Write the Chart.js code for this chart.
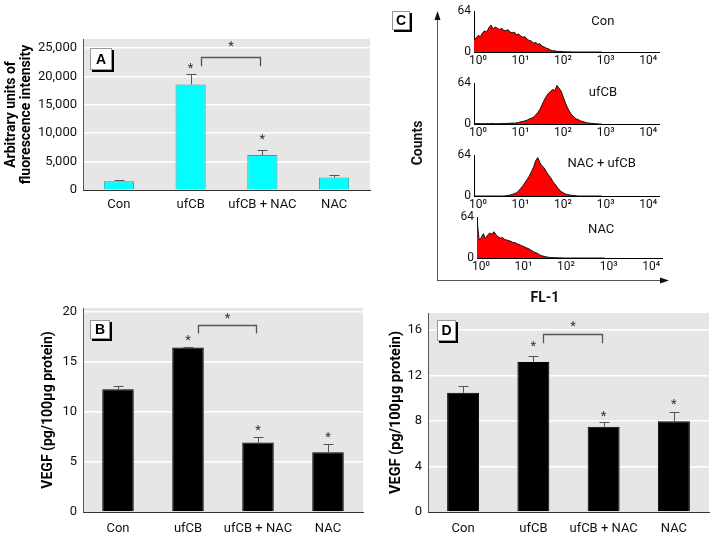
<!DOCTYPE html>
<html>
<head>
<meta charset="utf-8">
<script src="https://cdn.jsdelivr.net/npm/chart.js@4.4.1/dist/chart.umd.min.js"></script>
<style>
  body { margin: 0; background: #fff; width: 714px; height: 537px; position: relative; overflow: hidden; }
  canvas { position: absolute; }
  .tag { position: absolute; background: #fff; border: 1px solid #999; box-shadow: 2px 2px 0 #000; box-sizing: border-box;
         font: bold 14px 'Liberation Sans', Arial, sans-serif; text-align: center; color: #000; }
  .lbl { position: absolute; font: bold 14px Roboto, 'Liberation Sans', sans-serif; white-space: nowrap;
         transform: translate(-50%, -50%); color: #111; }
  svg { position: absolute; left: 0; top: 0; }
</style>
</head>
<body>
<canvas id="chartA" width="372" height="215" style="left:0;top:0"></canvas>
<canvas id="chartB" width="365" height="247" style="left:0;top:290px"></canvas>
<canvas id="chartD" width="354" height="247" style="left:360px;top:290px"></canvas>
<canvas id="hist0" width="222" height="72" style="left:440px;top:0"></canvas>
<canvas id="hist1" width="222" height="72" style="left:440px;top:72px"></canvas>
<canvas id="hist2" width="222" height="72" style="left:440px;top:144px"></canvas>
<canvas id="hist3" width="222" height="72" style="left:443px;top:206px"></canvas>

<svg width="714" height="537">
  <line x1="437.5" y1="18" x2="437.5" y2="280.5" stroke="#555" stroke-width="1"/>
  <polygon points="437.5,11 434.5,20 440.5,20" fill="#111"/>
  <line x1="437" y1="280.5" x2="662" y2="280.5" stroke="#555" stroke-width="1"/>
  <polygon points="669,280.5 660,277.5 660,283.5" fill="#111"/>
</svg>

<div class="tag" style="left:90px;top:48px;width:22px;height:22px;line-height:20px">A</div>
<div class="tag" style="left:90px;top:320px;width:20px;height:19px;line-height:17px">B</div>
<div class="tag" style="left:437px;top:320px;width:19px;height:21px;line-height:19px">D</div>
<div class="tag" style="left:392px;top:11px;width:18px;height:19px;line-height:17px">C</div>
<div class="lbl" style="left:417px;top:143px;transform:translate(-50%,-50%) rotate(-90deg)">Counts</div>
<div class="lbl" style="left:545px;top:297px">FL-1</div>

<script>
const FONT = "Roboto, 'Liberation Sans', sans-serif";

// bar panels (A, B, D)
const groups = ['Con', 'ufCB', 'ufCB + NAC', 'NAC'];
const meanA = [1550, 18600, 6150, 2200];
const semA  = [200, 1800, 850, 400];
const starsA = [null, 22000, 9560, null];
const ticksA = [0, 5000, 10000, 15000, 20000, 25000];
const meanB = [12.27, 16.44, 6.94, 5.97];
const semB  = [0.37, 0.06, 0.53, 0.83];
const starsB = [null, 17.5, 8.47, 7.77];
const ticksB = [0, 5, 10, 15, 20];
const meanD = [10.48, 13.2, 7.49, 7.99];
const semD  = [0.62, 0.5, 0.41, 0.81];
const starsD = [null, 14.89, 8.72, 9.75];
const ticksD = [0, 4, 8, 12, 16];

// flow cytometry histograms (panel C), x in log10 decades of FL-1
const fl1Bins = [0,0.05,0.1,0.15,0.2,0.25,0.3,0.35,0.4,0.45,0.5,0.55,0.6,0.65,0.7,0.75,0.8,0.85,0.9,0.95,
  1,1.05,1.1,1.15,1.2,1.25,1.3,1.35,1.4,1.45,1.5,1.55,1.6,1.65,1.7,1.75,1.8,1.85,1.9,1.95,
  2,2.05,2.1,2.15,2.2,2.25,2.3,2.35,2.4,2.45,2.5,2.55,2.6,2.65,2.7,2.75,2.8,2.85,2.9,2.95,3];
const fl1Ticks = [0, 1, 2, 3, 4];
const fl1Decades = ['10⁰', '10¹', '10²', '10³', '10⁴'];
const countTicks = [0, 64];
const countsCon = [18,22,26,24,30,33,31,38,42,36,39,37,35,37,34,33,35,31,30,31,
  27,28,25,23,24,20,18,17,14,15,12,13,9,8,6,5,3,2,2,1,
  1,1,0.5,0.5,0.3,0.3,0,0,0,0,0,0,0,0,0,0,0,0,0,0,0];
const countsUfcb = [0.5,0.5,0.8,0.5,0.6,0.5,0.8,0.5,0.6,0.9,0.5,0.6,0.8,0.7,1,0.8,1,1.2,1.5,1.2,
  2,2.5,3.5,4,5,6,8,9,11,14,18,23,30,37,43,48,51,54,52,60,
  56,51,42,33,25,19,14,11,8,7,5,4,3,2,1.5,1,0.8,0.5,0.3,0,0];
const countsNacUfcb = [0,0,0,0,0,0,0,0,0,0,0,0,0,0,0,0.3,0.8,1.5,2.5,4,
  5,8,12,16,21,26,31,38,45,55,60,52,47,44,38,33,29,23,19,14,
  10,7,5,3,2.5,1.5,1,0.5,0.3,0,0,0,0,0,0,0,0,0,0,0,0];
const countsNac = [60,28,32,38,30,36,39,37,41,36,33,31,32,29,28,27,26,24,24,22,
  21,19,18,16,15,13,11,9,8,6,4,3,2,1.5,1,0.8,0.6,0.5,0.3,0.2,
  0,0,0,0,0,0,0,0,0,0,0,0,0,0,0,0,0,0,0,0,0];
const histNames = ['Con', 'ufCB', 'NAC + ufCB', 'NAC'];

const panelBg = {
  id: 'panelBg',
  beforeDraw(chart, args, o) {
    if (!o.color) return;
    const { ctx, chartArea: a } = chart;
    ctx.save();
    ctx.fillStyle = o.color;
    ctx.fillRect(a.left, a.top, a.right - a.left, a.bottom - a.top);
    ctx.restore();
  }
};

const barExtras = {
  id: 'barExtras',
  afterDatasetsDraw(chart, args, o) {
    if (!o.sem) return;
    const { ctx, scales: { x, y } } = chart;
    const means = chart.data.datasets[0].data;
    ctx.save();
    ctx.strokeStyle = '#555';
    ctx.lineWidth = 1;
    means.forEach((m, i) => {
      const px = Math.round(x.getPixelForValue(i)) + 0.5;
      const top = Math.round(y.getPixelForValue(m + o.sem[i])) + 0.5;
      ctx.beginPath();
      ctx.moveTo(px, y.getPixelForValue(m));
      ctx.lineTo(px, top);
      ctx.moveTo(px - 5, top);
      ctx.lineTo(px + 5, top);
      ctx.stroke();
    });
    ctx.fillStyle = '#333';
    ctx.font = '13px ' + FONT;
    ctx.textAlign = 'center';
    ctx.textBaseline = 'alphabetic';
    o.stars.forEach((s, i) => {
      if (s == null) return;
      ctx.fillText('*', x.getPixelForValue(i), y.getPixelForValue(s) + 7);
    });
    const b = o.bracket;
    const x1 = Math.round(x.getPixelForValue(b.from) + 10) + 0.5;
    const x2 = Math.round(x.getPixelForValue(b.to) - 2) + 0.5;
    const yt = Math.round(y.getPixelForValue(b.top)) + 0.5;
    const yb = y.getPixelForValue(b.bottom);
    ctx.lineWidth = 1.3;
    ctx.beginPath();
    ctx.moveTo(x1, yb); ctx.lineTo(x1, yt); ctx.lineTo(x2, yt); ctx.lineTo(x2, yb);
    ctx.stroke();
    ctx.fillText('*', (x1 + x2) / 2, y.getPixelForValue(b.star) + 7);
    ctx.restore();
  }
};

const histName = {
  id: 'histName',
  afterDatasetsDraw(chart, args, o) {
    if (!o.text) return;
    const { ctx, scales: { x, y } } = chart;
    ctx.save();
    ctx.fillStyle = '#111';
    ctx.font = '13px ' + FONT;
    ctx.textAlign = 'center';
    ctx.textBaseline = 'middle';
    ctx.fillText(o.text, x.getPixelForValue(o.x), y.getPixelForValue(o.y));
    ctx.restore();
  }
};

function barChart(id, c) {
  return new Chart(document.getElementById(id), {
    type: 'bar',
    data: {
      labels: groups,
      datasets: [{ data: c.means, backgroundColor: c.fill, borderColor: c.edge, borderWidth: 1,
                   barPercentage: c.bar, categoryPercentage: 1 }]
    },
    options: {
      responsive: false, animation: false, devicePixelRatio: 1,
      layout: { padding: c.pad },
      plugins: {
        legend: { display: false }, tooltip: { enabled: false },
        panelBg: { color: '#e6e6e6' },
        barExtras: { sem: c.sem, stars: c.stars, bracket: c.bracket }
      },
      scales: {
        x: {
          grid: { display: false, drawTicks: false },
          border: { color: '#333' },
          ticks: { padding: c.xpad, color: '#111', maxRotation: 0, autoSkip: false,
                   font: { family: FONT, size: 13 } },
          afterFit: s => { s.height = 25; }
        },
        y: {
          min: 0, max: c.max,
          afterBuildTicks: s => { s.ticks = c.ticks.map(v => ({ value: v })); },
          ticks: { padding: 6, color: '#111', font: { family: FONT, size: 13 },
                   callback: v => v.toLocaleString('en-US') },
          grid: { drawTicks: false, lineWidth: 1.5, color: ctx => ctx.tick && ctx.tick.value === 0 ? 'rgba(0,0,0,0)' : '#ffffff' },
          border: { color: '#555' },
          title: { display: true, text: c.title, color: '#000',
                   font: { family: FONT, size: c.tsize, weight: 'bold', lineHeight: c.tlh },
                   padding: { top: c.tpad, bottom: 0 } },
          afterFit: s => { s.width = c.yw; }
        }
      }
    },
    plugins: [panelBg, barExtras]
  });
}

barChart('chartA', {
  means: meanA, sem: semA, stars: starsA, ticks: ticksA, fill: '#00ffff', edge: '#3c9c9c', bar: 0.42,
  bracket: { from: 1, to: 2, top: 23400, bottom: 21800, star: 25900 },
  max: 26600, yw: 83, xpad: 7,
  pad: { top: 39, right: 2, left: 0, bottom: 0 },
  title: ['Arbitrary units of', 'fluorescence intensity'], tsize: 14, tlh: 1.08, tpad: 4
});

barChart('chartB', {
  means: meanB, sem: semB, stars: starsB, ticks: ticksB, fill: '#000', edge: '#000', bar: 0.45,
  bracket: { from: 1, to: 2, top: 18.67, bottom: 17.84, star: 19.74 },
  max: 20.4, yw: 83, xpad: 9,
  pad: { top: 18, right: 2, left: 0, bottom: 0 },
  title: 'VEGF (pg/100μg protein)', tsize: 14, tlh: 1.2, tpad: 40
});

barChart('chartD', {
  means: meanD, sem: semD, stars: starsD, ticks: ticksD, fill: '#000', edge: '#000', bar: 0.455,
  bracket: { from: 1, to: 2, top: 15.63, bottom: 14.84, star: 16.65 },
  max: 17.5, yw: 68, xpad: 9,
  pad: { top: 23, right: 5, left: 0, bottom: 0 },
  title: 'VEGF (pg/100μg protein)', tsize: 14.5, tlh: 1.2, tpad: 28
});

function histChart(id, counts, name, nameX, nameY) {
  return new Chart(document.getElementById(id), {
    type: 'line',
    data: {
      datasets: [{
        data: fl1Bins.map((b, i) => ({ x: b, y: counts[i] })),
        borderColor: '#111', borderWidth: 1, backgroundColor: '#ff0000',
        fill: 'origin', pointRadius: 0, tension: 0
      }]
    },
    options: {
      responsive: false, animation: false, devicePixelRatio: 1,
      layout: { padding: { top: 11, right: 3, left: 0, bottom: 0 } },
      plugins: {
        legend: { display: false }, tooltip: { enabled: false },
        histName: { text: name, x: nameX, y: nameY }
      },
      scales: {
        x: {
          type: 'linear', min: 0, max: 4.35,
          afterBuildTicks: s => { s.ticks = fl1Ticks.map(v => ({ value: v })); },
          grid: { display: false, drawTicks: false },
          border: { color: '#000' },
          ticks: { padding: 2, labelOffset: 4, color: '#111', maxRotation: 0, autoSkip: false,
                   font: { family: FONT, size: 12 }, callback: v => fl1Decades[v] },
          afterFit: s => { s.height = 20; }
        },
        y: {
          min: 0, max: 64,
          afterBuildTicks: s => { s.ticks = countTicks.map(v => ({ value: v })); },
          grid: { display: false, drawTicks: false },
          border: { color: '#000' },
          ticks: { padding: 3, color: '#111', font: { family: FONT, size: 12 } },
          afterFit: s => { s.width = 34; }
        }
      }
    },
    plugins: [histName]
  });
}

histChart('hist0', countsCon, histNames[0], 3.03, 47);
histChart('hist1', countsUfcb, histNames[1], 3.03, 49);
histChart('hist2', countsNacUfcb, histNames[2], 3.0, 50);
histChart('hist3', countsNac, histNames[3], 2.92, 44);
</script>
</body>
</html>
